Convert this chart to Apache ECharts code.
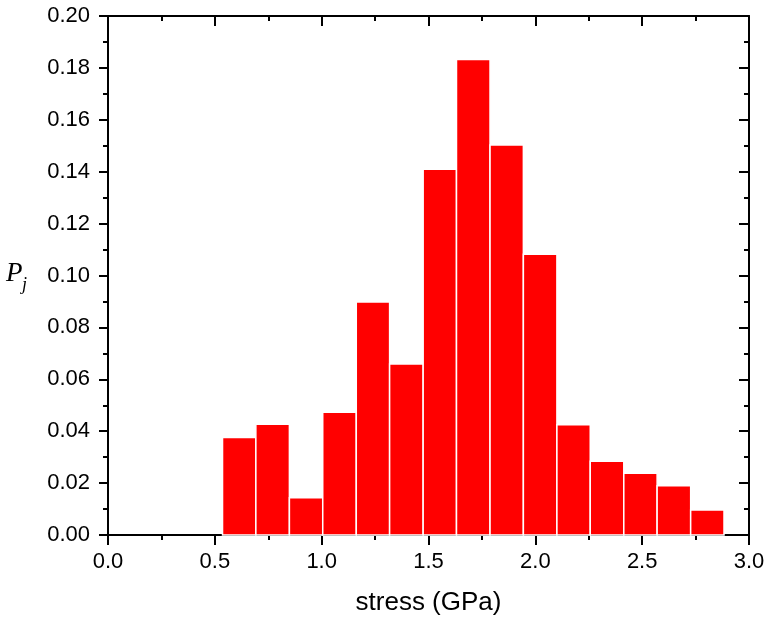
<!DOCTYPE html>
<html>
<head>
<meta charset="utf-8">
<script src="https://cdn.jsdelivr.net/npm/echarts@6/dist/echarts.min.js"></script>
<style>html,body{margin:0;padding:0;background:#fff;}#chart{width:768px;height:619px;}</style>
</head>
<body>
<div id="chart"></div>
<script>
// Bin left edges and right edges (GPa)
const binLeft  = [0.536, 0.692, 0.849, 1.005, 1.162, 1.318, 1.475, 1.631, 1.788, 1.944, 2.101, 2.257, 2.414, 2.570, 2.727];
const binRight = [0.692, 0.849, 1.005, 1.162, 1.318, 1.475, 1.631, 1.788, 1.944, 2.101, 2.257, 2.414, 2.570, 2.727, 2.883];
// Probabilities P_j
const probs = [0.0376, 0.0427, 0.0144, 0.0473, 0.0898, 0.0659, 0.1409, 0.1832, 0.1503, 0.1082, 0.0425, 0.0284, 0.0238, 0.0190, 0.0096];
const xTickLabels = ['0.0','0.5','1.0','1.5','2.0','2.5','3.0'];

const chart = echarts.init(document.getElementById('chart'), null, {renderer: 'canvas'});
const font = '"Liberation Sans", Arial, sans-serif';
const serif = '"Liberation Serif", "Times New Roman", serif';
const data = probs.map((v, i) => [binLeft[i], binRight[i], v]);

const axisLine = {show: true, onZero: false, lineStyle: {color: '#000', width: 2}};
const tickStyle = {color: '#000', width: 2};
chart.setOption({
  animation: false,
  backgroundColor: '#fff',
  grid: {left: 108, right: 19, top: 16, bottom: 84, containLabel: false, outerBoundsMode: 'none'},
  xAxis: [{
    type: 'value', min: 0, max: 3, interval: 0.5, position: 'bottom',
    axisLine: axisLine,
    axisTick: {show: true, inside: false, length: 10, lineStyle: tickStyle},
    minorTick: {show: true, splitNumber: 2, length: 5, lineStyle: tickStyle},
    splitLine: {show: false},
    axisLabel: {margin: 16, fontSize: 22, color: '#000', fontFamily: font,
      formatter: v => xTickLabels[Math.round(v / 0.5)]},
    name: 'stress (GPa)', nameLocation: 'middle', nameGap: 55,
    nameTextStyle: {fontSize: 26, color: '#000', fontFamily: font}
  }, {
    type: 'value', min: 0, max: 3, interval: 0.5, position: 'top', show: true,
    axisLine: axisLine,
    axisTick: {show: true, inside: true, length: 10, lineStyle: tickStyle},
    minorTick: {show: true, splitNumber: 2, length: 5, lineStyle: tickStyle},
    splitLine: {show: false}, axisLabel: {show: false}
  }],
  yAxis: [{
    type: 'value', min: 0, max: 0.2, interval: 0.02, position: 'left',
    axisLine: axisLine,
    axisTick: {show: true, inside: false, length: 9, lineStyle: tickStyle},
    minorTick: {show: true, splitNumber: 2, length: 5, lineStyle: tickStyle},
    splitLine: {show: false},
    axisLabel: {margin: 18, fontSize: 22, color: '#000', fontFamily: font,
      formatter: v => v.toFixed(2)}
  }, {
    type: 'value', min: 0, max: 0.2, interval: 0.02, position: 'right', show: true,
    axisLine: axisLine,
    axisTick: {show: true, inside: true, length: 10, lineStyle: tickStyle},
    minorTick: {show: true, splitNumber: 2, length: 5, lineStyle: tickStyle},
    splitLine: {show: false}, axisLabel: {show: false}
  }],
  graphic: [{
    type: 'text', left: 6, top: 260,
    style: {text: 'P', font: 'italic 27px ' + serif, fill: '#000'}
  }, {
    type: 'text', left: 22, top: 276,
    style: {text: 'j', font: 'italic 18px ' + serif, fill: '#000'}
  }],
  series: [{
    type: 'custom',
    xAxisIndex: 0, yAxisIndex: 0,
    data: data,
    encode: {x: [0, 1], y: 2},
    renderItem: function (params, api) {
      const p0 = api.coord([api.value(0), api.value(2)]);
      const p1 = api.coord([api.value(1), 0]);
      return {
        type: 'rect',
        shape: {x: p0[0], y: p0[1], width: p1[0] - p0[0], height: p1[1] - p0[1]},
        style: {fill: '#ff0000', stroke: '#ffffff', lineWidth: 1.5}
      };
    }
  }, {
    type: 'line', xAxisIndex: 1, yAxisIndex: 1, data: [], silent: true
  }]
});
</script>
</body>
</html>
